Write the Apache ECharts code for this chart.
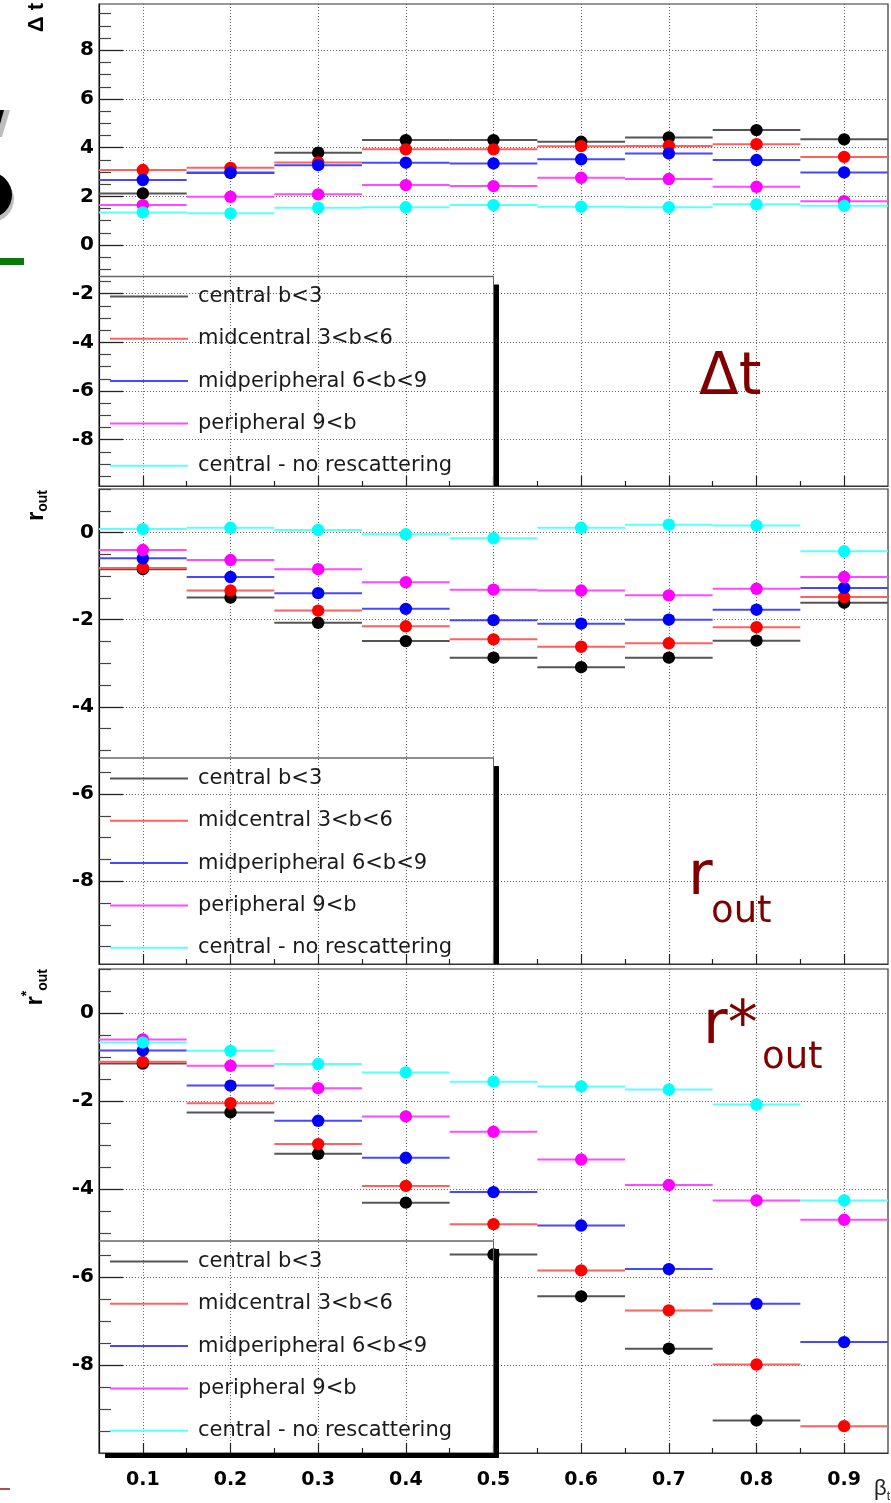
<!DOCTYPE html>
<html>
<head>
<meta charset="utf-8">
<title>HBT radii vs beta_t</title>
<script src="https://cdn.jsdelivr.net/npm/echarts@6/dist/echarts.min.js"></script>
<style>
  html, body { margin: 0; padding: 0; background: #fff; }
  #chart { width: 891px; height: 1503px; }
</style>
</head>
<body>
<div id="chart"></div>
<script>
// Pair transverse velocity bins (bin centres, bin half width)
const betaT = [0.1, 0.2, 0.3, 0.4, 0.5, 0.6, 0.7, 0.8, 0.9];
const binHalfWidth = 0.05;

const groups = ['central b<3', 'midcentral 3<b<6', 'midperipheral 6<b<9', 'peripheral 9<b', 'central - no rescattering'];

// Δt
const dtCentral       = [2.12, 2.96, 3.79, 4.31, 4.31, 4.24, 4.42, 4.72, 4.34];
const dtMidcentral    = [3.08, 3.17, 3.39, 3.93, 3.93, 4.06, 4.07, 4.14, 3.62];
const dtMidperipheral = [2.67, 2.98, 3.28, 3.38, 3.35, 3.52, 3.76, 3.49, 2.98];
const dtPeripheral    = [1.64, 1.98, 2.08, 2.46, 2.42, 2.76, 2.71, 2.39, 1.80];
const dtNoRescatter   = [1.34, 1.30, 1.53, 1.55, 1.64, 1.57, 1.55, 1.67, 1.61];

// r_out
const routCentral       = [-0.84, -1.49, -2.07, -2.49, -2.87, -3.09, -2.87, -2.48, -1.61];
const routMidcentral    = [-0.81, -1.33, -1.79, -2.15, -2.45, -2.62, -2.54, -2.17, -1.48];
const routMidperipheral = [-0.59, -1.02, -1.39, -1.75, -2.01, -2.09, -2.00, -1.77, -1.27];
const routPeripheral    = [-0.40, -0.63, -0.84, -1.14, -1.31, -1.33, -1.44, -1.29, -1.02];
const routNoRescatter   = [0.08, 0.11, 0.06, -0.04, -0.13, 0.11, 0.18, 0.16, -0.43];

// r*_out (central at 0.9 falls below the frame)
const rstarCentral       = [-1.15, -2.26, -3.20, -4.31, -5.49, -6.44, -7.63, -9.26, null];
const rstarMidcentral    = [-1.11, -2.05, -2.98, -3.93, -4.80, -5.85, -6.76, -7.99, -9.39];
const rstarMidperipheral = [-0.85, -1.65, -2.45, -3.29, -4.07, -4.83, -5.82, -6.61, -7.48];
const rstarPeripheral    = [-0.60, -1.20, -1.71, -2.35, -2.70, -3.33, -3.91, -4.26, -4.70];
const rstarNoRescatter   = [-0.67, -0.86, -1.16, -1.35, -1.56, -1.67, -1.74, -2.08, -4.26];

// Tick labels
const dtTicks = [-8, -6, -4, -2, 0, 2, 4, 6, 8];
const routTicks = [-8, -6, -4, -2, 0];
const rstarTicks = [-8, -6, -4, -2, 0];

// Styles
const dotColors  = ['#000000', '#ff0000', '#0000ff', '#ff00ff', '#00ffff'];
const lineColors = ['#555555', '#ff6060', '#4848ff', '#ff4cff', '#5cffff'];
const darkRed = '#800000';
const numFont = 'DejaVu Sans';
const titleFont = 'Liberation Sans';

const panels = [
  { top: 4,   height: 482, yMin: -9.9, yMax: 9.9, ticks: dtTicks,
    values: [dtCentral, dtMidcentral, dtMidperipheral, dtPeripheral, dtNoRescatter],
    legendTop: 286, boxTop: 276.5, showX: false },
  { top: 489, height: 475, yMin: -9.9, yMax: 1, ticks: routTicks,
    values: [routCentral, routMidcentral, routMidperipheral, routPeripheral, routNoRescatter],
    legendTop: 768, boxTop: 758, showX: false },
  { top: 969, height: 484, yMin: -10, yMax: 1, ticks: rstarTicks,
    values: [rstarCentral, rstarMidcentral, rstarMidperipheral, rstarPeripheral, rstarNoRescatter],
    legendTop: 1251, boxTop: 1241, showX: true }
];

const plotLeft = 99, plotRight = 888;

// minor ticks: every 0.5 between the labelled ones
function minorTicks(min, max, step, majors) {
  const out = [];
  for (let v = Math.ceil(min / step) * step; v <= max + 1e-9; v += step) {
    const r = Math.round(v * 100) / 100;
    if (!majors.some(m => Math.abs(m - r) < 1e-6)) out.push(r);
  }
  return out;
}
// x minor ticks at the inner bin edges
const binEdges = betaT.slice(1).map((b, i) => Math.round((b + betaT[i]) * 50) / 100);

const grids = [], xAxes = [], yAxes = [], series = [], legends = [];
const xMinorAxes = [], yMinorAxes = [];

panels.forEach((p, pi) => {
  grids.push({
    left: plotLeft, width: plotRight - plotLeft, top: p.top, height: p.height,
    show: true, borderColor: '#333', borderWidth: 1.2, backgroundColor: 'transparent',
    containLabel: false
  });
  xAxes.push({
    type: 'value', gridIndex: pi, min: 0.05, max: 0.95, position: 'bottom',
    axisLine: { show: true, onZero: false, lineStyle: { color: '#333', width: 1.2 } },
    axisTick: { show: true, inside: true, length: 10, customValues: betaT, lineStyle: { color: '#222', width: 1.2 } },
    axisLabel: {
      show: p.showX, customValues: betaT, margin: 18,
      fontFamily: numFont, fontWeight: 'bold', fontSize: 19, color: '#000',
      formatter: v => v.toFixed(1)
    },
    splitLine: { show: true, lineStyle: { type: [1, 2], color: '#666', width: 1 } }
  });
  xMinorAxes.push({
    type: 'value', gridIndex: pi, min: 0.05, max: 0.95, position: 'bottom',
    axisLine: { show: false, onZero: false },
    axisTick: { show: true, inside: true, length: 5, customValues: binEdges, lineStyle: { color: '#222', width: 1.2 } },
    axisLabel: { show: false }, splitLine: { show: false }
  });
  yAxes.push({
    type: 'value', gridIndex: pi, min: p.yMin, max: p.yMax, position: 'left',
    axisLine: { show: true, onZero: false, lineStyle: { color: '#111', width: 1.2 } },
    axisTick: { show: true, inside: true, length: 24, customValues: p.ticks, lineStyle: { color: '#222', width: 1.3 } },
    axisLabel: {
      customValues: p.ticks, margin: 5,
      fontFamily: numFont, fontWeight: 'bold', fontSize: 20, color: '#000'
    },
    splitLine: { show: true, lineStyle: { type: [1, 2], color: '#666', width: 1 } }
  });
  yMinorAxes.push({
    type: 'value', gridIndex: pi, min: p.yMin, max: p.yMax, position: 'left',
    axisLine: { show: false, onZero: false },
    axisTick: { show: true, inside: true, length: 12, customValues: minorTicks(p.yMin, p.yMax, 0.5, p.ticks), lineStyle: { color: '#444', width: 1.2 } },
    axisLabel: { show: false }, splitLine: { show: false }
  });

  // one series per centrality class: horizontal bin bar + marker
  p.values.forEach((vals, gi) => {
    series.push({
      type: 'custom', name: groups[gi], xAxisIndex: pi, yAxisIndex: pi,
      clip: true,
      itemStyle: { color: dotColors[gi] },
      data: betaT.map((b, i) => [b, vals[i]]).filter(d => d[1] !== null),
      renderItem: (params, api) => {
        const b = api.value(0), v = api.value(1);
        const a = api.coord([b - binHalfWidth, v]);
        const z = api.coord([b + binHalfWidth, v]);
        const c = api.coord([b, v]);
        return {
          type: 'group',
          children: [
            { type: 'line', shape: { x1: a[0], y1: a[1], x2: z[0], y2: z[1] },
              style: { stroke: lineColors[gi], lineWidth: 2 } },
            { type: 'circle', shape: { cx: c[0], cy: c[1], r: 6.2 },
              style: { fill: dotColors[gi] } }
          ]
        };
      }
    });
  });

  legends.push({
    orient: 'vertical', left: 110, top: p.legendTop, padding: 0,
    itemWidth: 78, itemHeight: 2, itemGap: 21.3, selectedMode: false,
    data: groups.map((g, gi) => ({ name: g, icon: 'rect', itemStyle: { color: lineColors[gi] } })),
    textStyle: { fontFamily: 'DejaVu Sans', fontSize: 21, lineHeight: 21, color: '#1a1a1a', padding: [0, 0, 0, 5] }
  });
});

// legend frames with the drop shadow, axis titles and panel labels
const graphics = [];
panels.forEach((p, pi) => {
  const bottom = p.top + p.height;
  const last = pi === panels.length - 1;
  graphics.push(
    { type: 'line', z: 20, shape: { x1: plotLeft, y1: p.boxTop, x2: 494, y2: p.boxTop }, style: { stroke: '#666', lineWidth: 1.5 } },
    { type: 'line', z: 20, shape: { x1: 493.5, y1: p.boxTop, x2: 493.5, y2: bottom }, style: { stroke: '#666', lineWidth: 1 } },
    { type: 'rect', z: 20, shape: { x: 494, y: p.boxTop + 8, width: 5, height: bottom - p.boxTop - 8 + (last ? 5 : 0) }, style: { fill: '#000' } }
  );
  if (last) {
    graphics.push({ type: 'rect', z: 20, shape: { x: 105, y: bottom, width: 394, height: 5 }, style: { fill: '#000' } });
  }
});

function txt(size, weight, extra) {
  return Object.assign({ fontSize: size, fontWeight: weight, fontFamily: titleFont, fill: '#000' }, extra || {});
}

graphics.push(
  // y-axis titles
  { type: 'text', x: 37, y: 3, rotation: Math.PI / 2, z: 30,
    style: Object.assign(txt(22, 'bold'), { text: 'Δ t', align: 'right', verticalAlign: 'middle' }) },
  { type: 'text', x: 36, y: 490, rotation: Math.PI / 2, z: 30,
    style: { text: '{r|r}{s|out}', align: 'right', verticalAlign: 'middle',
      rich: { r: txt(24, 'bold', { lineHeight: 28 }),
              s: txt(14, 'bold', { verticalAlign: 'bottom', lineHeight: 28 }) } } },
  { type: 'text', x: 35, y: 969, rotation: Math.PI / 2, z: 30,
    style: { text: '{r|r}{p|*}{s|out}', align: 'right', verticalAlign: 'middle',
      rich: { r: txt(24, 'bold', { lineHeight: 30 }),
              p: txt(14, 'bold', { verticalAlign: 'top', lineHeight: 30 }),
              s: txt(14, 'bold', { verticalAlign: 'bottom', lineHeight: 30 }) } } },
  // x-axis title
  { type: 'text', x: 890, y: 1489, z: 30,
    style: { text: '{b|β}{s|t}', align: 'right', verticalAlign: 'middle',
      rich: { b: txt(22, 'normal', { fill: '#222', lineHeight: 28 }),
              s: txt(12, 'normal', { fill: '#222', verticalAlign: 'bottom', lineHeight: 28 }) } } },
  // panel labels
  { type: 'text', x: 699, y: 379, z: 30,
    style: { text: 'Δt', fontSize: 58, fontFamily: 'DejaVu Sans', fill: darkRed, align: 'left', verticalAlign: 'middle' } },
  { type: 'text', x: 688, y: 878, z: 30,
    style: { text: 'r', fontSize: 60, fontFamily: 'DejaVu Sans', fill: darkRed, align: 'left', verticalAlign: 'middle' } },
  { type: 'text', x: 711, y: 912, z: 30,
    style: { text: 'out', fontSize: 37, fontFamily: 'DejaVu Sans', fill: darkRed, align: 'left', verticalAlign: 'middle' } },
  { type: 'text', x: 703, y: 1027, z: 30,
    style: { text: 'r*', fontSize: 60, fontFamily: 'DejaVu Sans', fill: darkRed, align: 'left', verticalAlign: 'middle' } },
  { type: 'text', x: 762, y: 1058, z: 30,
    style: { text: 'out', fontSize: 37, fontFamily: 'DejaVu Sans', fill: darkRed, align: 'left', verticalAlign: 'middle' } },
  // fragments along the left margin
  { type: 'polygon', z: 5, shape: { points: [[0, 110], [10, 110], [2, 137], [0, 137]] }, style: { fill: '#bdbdbd' } },
  { type: 'polygon', z: 6, shape: { points: [[0, 110], [4, 110], [0, 124]] }, style: { fill: '#000' } },
  { type: 'circle', z: 5, shape: { cx: -9, cy: 199, r: 23 }, style: { fill: '#bdbdbd' } },
  { type: 'circle', z: 6, shape: { cx: -11, cy: 195, r: 23 }, style: { fill: '#000' } },
  { type: 'rect', z: 5, shape: { x: 0, y: 258, width: 24, height: 7 }, style: { fill: '#0a7a0a' } },
  { type: 'line', z: 5, shape: { x1: 0, y1: 1489, x2: 10, y2: 1489 }, style: { stroke: '#8b1a1a', lineWidth: 1.5 } }
);

const chart = echarts.init(document.getElementById('chart'), null, { renderer: 'canvas' });
chart.setOption({
  animation: false,
  backgroundColor: '#ffffff',
  grid: grids,
  xAxis: xAxes.concat(xMinorAxes),
  yAxis: yAxes.concat(yMinorAxes),
  legend: legends,
  series: series,
  graphic: { elements: graphics }
});
</script>
</body>
</html>
